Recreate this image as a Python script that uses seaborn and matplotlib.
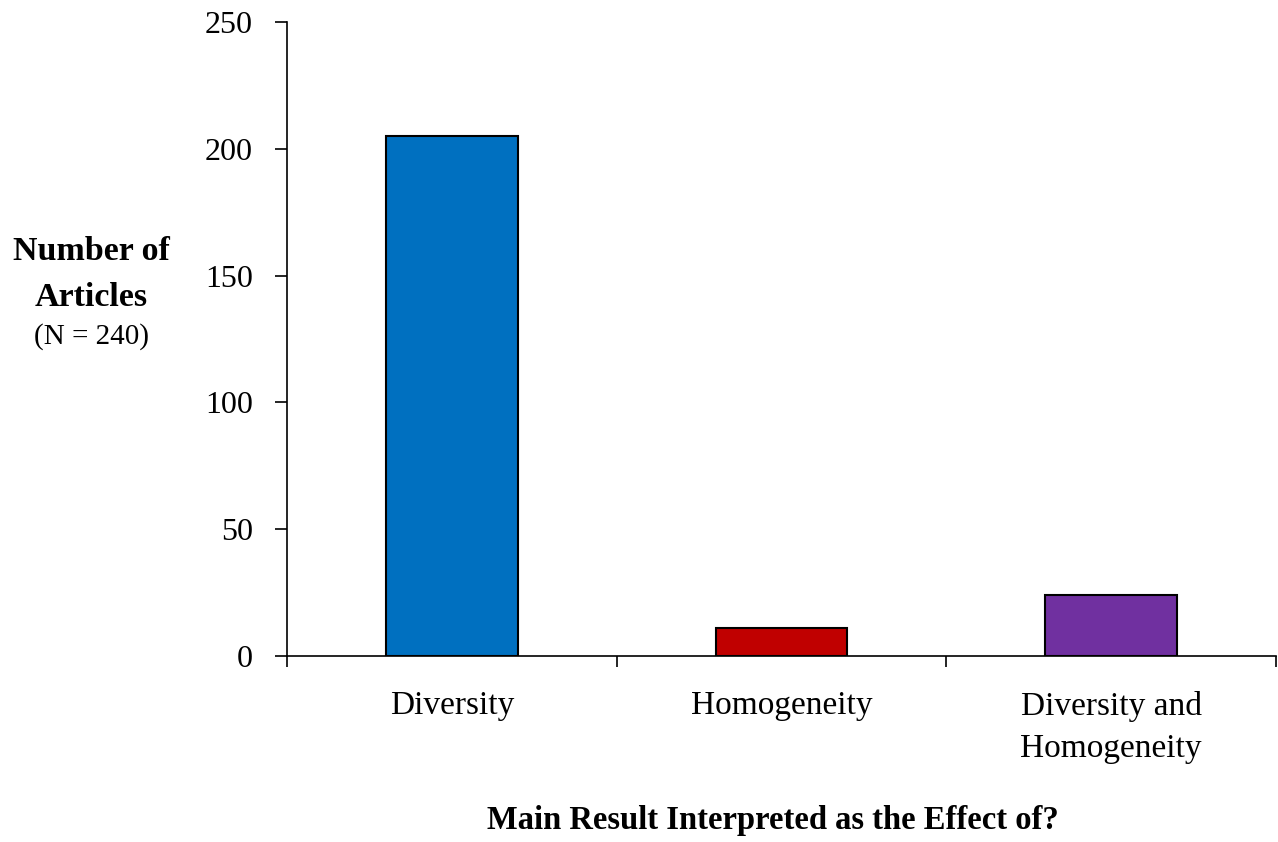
import matplotlib
matplotlib.use("Agg")
import matplotlib.pyplot as plt
import seaborn as sns
import pandas as pd

categories = ["Diversity", "Homogeneity", "Diversity and\nHomogeneity"]
counts = [205, 11, 24]
colors = ["#0070C0", "#C00000", "#7030A0"]
yticks = [0, 50, 100, 150, 200, 250]

sns.set_theme(style="white")
plt.rcParams["font.family"] = ["Liberation Serif", "DejaVu Serif"]
plt.rcParams["text.color"] = "black"
plt.rcParams["xtick.color"] = "black"
plt.rcParams["ytick.color"] = "black"

df = pd.DataFrame({"cat": categories, "n": counts})

fig = plt.figure(figsize=(12.78, 8.42), dpi=100)
ax = fig.add_axes([287/1278, (842-656)/842, (1276-287)/1278, (656-22)/842])

sns.barplot(data=df, x="cat", y="n", hue="cat", palette=colors, width=0.4, saturation=1,
            edgecolor="black", linewidth=1.5, legend=False, ax=ax)

ax.set_xlim(-0.5, 2.5)
ax.set_ylim(0, 250)
ax.set_yticks(yticks)
ax.set_yticklabels([str(t) for t in yticks], fontsize=23)
ax.set_xticks(range(len(categories)))
ax.set_xticklabels(categories, fontsize=24, linespacing=1.5)
ax.tick_params(axis="x", which="major", length=0, pad=25)
ax.set_xticks([-0.5, 0.5, 1.5, 2.5], minor=True)
ax.tick_params(axis="x", which="minor", length=8, width=1.2, color="black", direction="out", bottom=True)
ax.tick_params(axis="y", length=8.5, width=1.2, color="black", direction="out", left=True, pad=16)

for s in ["top", "right"]:
    ax.spines[s].set_visible(False)
for s in ["left", "bottom"]:
    ax.spines[s].set_color("black")
    ax.spines[s].set_linewidth(1.2)

ax.set_xlabel("")
ax.set_ylabel("")

fig.text(91/1278, 1 - 252/842, "Number of", ha="center", va="center", fontsize=24.5, fontweight="bold")
fig.text(91/1278, 1 - 297/842, "Articles", ha="center", va="center", fontsize=24.5, fontweight="bold")
fig.text(92/1278, 1 - 337/842, "(N = 240)", ha="center", va="center", fontsize=21)
fig.text(773/1278, 1 - 820/842, "Main Result Interpreted as the Effect of?", ha="center", va="center",
         fontsize=23.5, fontweight="bold")

fig.savefig("out.png", dpi=100, facecolor="white")
